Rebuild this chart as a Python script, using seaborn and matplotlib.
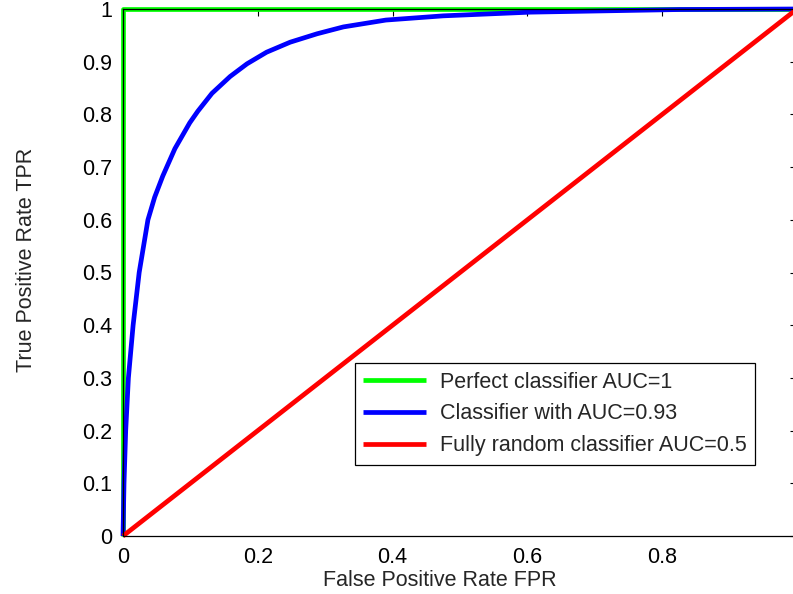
import matplotlib
matplotlib.use('Agg')
import matplotlib.pyplot as plt
import pandas as pd
import seaborn as sns

# ROC curves
perfect_fpr = [0.0, 0.0, 1.0]
perfect_tpr = [0.0, 1.0, 1.0]

auc93_fpr = [0.0, 0.0015, 0.004, 0.008, 0.015, 0.024, 0.037, 0.047, 0.059,
             0.077, 0.099, 0.111, 0.132, 0.159, 0.184, 0.213, 0.248, 0.288,
             0.327, 0.39, 0.475, 0.604, 0.826, 1.0]
auc93_tpr = [0.0, 0.1, 0.2, 0.3, 0.4, 0.5, 0.6, 0.643, 0.683,
             0.735, 0.784, 0.806, 0.84, 0.872, 0.896, 0.918, 0.937, 0.953,
             0.966, 0.979, 0.987, 0.994, 0.999, 1.0]

random_fpr = [0.0, 1.0]
random_tpr = [0.0, 1.0]

labels = ['Perfect classifier AUC=1',
          'Classifier with AUC=0.93',
          'Fully random classifier AUC=0.5']
colors = ['#00ff00', '#0000ff', '#ff0000']

xticks = [0, 0.2, 0.4, 0.6, 0.8, 1]
xticklabels = ['0', '0.2', '0.4', '0.6', '0.8', '1']
yticks = [0, 0.1, 0.2, 0.3, 0.4, 0.5, 0.6, 0.7, 0.8, 0.9, 1]
yticklabels = ['0', '0.1', '0.2', '0.3', '0.4', '0.5', '0.6', '0.7', '0.8',
               '0.9', '1']


def main():
    sns.set_style('white')
    plt.rcParams['font.family'] = ['Liberation Sans', 'DejaVu Sans']
    fs = 15.5

    fig = plt.figure(figsize=(7.93, 5.94), dpi=100)
    ax = fig.add_axes([123 / 793, 58 / 594, 674 / 793, 527 / 594])

    curves = [(perfect_fpr, perfect_tpr), (auc93_fpr, auc93_tpr),
              (random_fpr, random_tpr)]
    for (fpr, tpr), lab, col in zip(curves, labels, colors):
        df = pd.DataFrame({'fpr': fpr, 'tpr': tpr})
        sns.lineplot(data=df, x='fpr', y='tpr', sort=False, estimator=None,
                     color=col, linewidth=3.4, label=lab, ax=ax,
                     solid_capstyle='butt', solid_joinstyle='round',
                     clip_on=False)

    ax.set_xlim(0, 1)
    ax.set_ylim(0, 1)
    ax.set_xticks(xticks)
    ax.set_xticklabels(xticklabels)
    ax.set_yticks(yticks)
    ax.set_yticklabels(yticklabels)
    ax.tick_params(direction='in', length=5, width=0.8, colors='black',
                   labelsize=fs, pad=8, top=True, right=True)
    for sp in ax.spines.values():
        sp.set_color('black')
        sp.set_linewidth(0.9)

    ax.set_xlabel('False Positive Rate FPR', fontsize=fs)
    ax.set_ylabel('True Positive Rate TPR', fontsize=fs)
    ax.xaxis.set_label_coords(0.470, -0.064)
    ax.yaxis.set_label_coords(-0.127, 0.524)

    leg = ax.legend(loc='lower right', bbox_to_anchor=(0.9377, 0.135),
                    borderaxespad=0, fontsize=fs, fancybox=False,
                    edgecolor='black', framealpha=1, handlelength=2.9,
                    handletextpad=0.65, labelspacing=0.5, borderpad=0.4)
    leg.get_frame().set_linewidth(0.9)

    fig.savefig('out.png', dpi=100)


if __name__ == '__main__':
    main()
